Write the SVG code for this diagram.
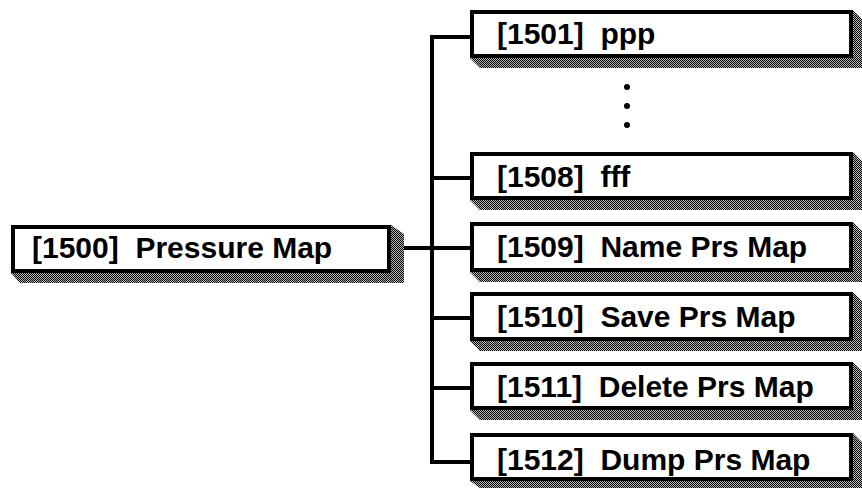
<svg xmlns="http://www.w3.org/2000/svg" width="862" height="488" viewBox="0 0 862 488">
  <defs>
    <!-- fine checkered halftone used for the box shadows -->
    <pattern id="dither" width="2" height="2" patternUnits="userSpaceOnUse">
      <rect width="2" height="2" fill="#b4b4b4"/>
      <rect x="0" y="0" width="1" height="1" fill="#000000"/>
      <rect x="1" y="1" width="1" height="1" fill="#000000"/>
    </pattern>
  </defs>
  <style>
    .box { fill: #ffffff; stroke: #000000; stroke-width: 4; }
    .shadow { fill: url(#dither); stroke: none; }
    .label { font-family: "Liberation Sans", Arial, Helvetica, sans-serif; font-weight: bold; font-size: 30px; fill: #000000; }
    .wire { fill: none; stroke: #000000; stroke-width: 4; stroke-linecap: square; }
    .dot { fill: #000000; }
  </style>
  <rect width="862" height="488" fill="#ffffff"/>

  <!-- connectors -->
  <g id="connectors">
    <line class="wire" x1="405" y1="248" x2="432" y2="248"/>
    <line class="wire" x1="432" y1="37" x2="432" y2="462"/>
    <line class="wire" x1="432" y1="37" x2="470" y2="37"/>
    <line class="wire" x1="432" y1="178" x2="470" y2="178"/>
    <line class="wire" x1="432" y1="248" x2="470" y2="248"/>
    <line class="wire" x1="432" y1="318" x2="470" y2="318"/>
    <line class="wire" x1="432" y1="388" x2="470" y2="388"/>
    <line class="wire" x1="432" y1="462" x2="470" y2="462"/>
    <circle class="dot" cx="627" cy="87" r="3"/>
    <circle class="dot" cx="627" cy="106" r="3"/>
    <circle class="dot" cx="627" cy="125" r="3"/>
  </g>

  <!-- root menu -->
  <g id="n1500">
    <polygon class="shadow" points="391,225 404,234 404,283 20,283 11,273 391,273"/>
    <rect class="box" x="13" y="227" width="376" height="44"/>
    <text class="label" x="32" y="258">[1500]&#160; Pressure Map</text>
  </g>

  <!-- sub-menu items -->
  <g id="n1501">
    <polygon class="shadow" points="853,10 862,19 862,68 480,68 470,58 853,58"/>
    <rect class="box" x="472" y="12" width="379" height="44"/>
    <text class="label" x="497" y="44">[1501]&#160; ppp</text>
  </g>

  <g id="n1508">
    <polygon class="shadow" points="853,152 862,161 862,210 480,210 470,200 853,200"/>
    <rect class="box" x="472" y="154" width="379" height="44"/>
    <text class="label" x="497" y="187">[1508]&#160; fff</text>
  </g>

  <g id="n1509">
    <polygon class="shadow" points="853,222 862,231 862,282 480,282 470,272 853,272"/>
    <rect class="box" x="472" y="224" width="379" height="46"/>
    <text class="label" x="497" y="257">[1509]&#160; Name Prs Map</text>
  </g>

  <g id="n1510">
    <polygon class="shadow" points="853,292 862,301 862,351 480,351 470,341 853,341"/>
    <rect class="box" x="472" y="294" width="379" height="45"/>
    <text class="label" x="497" y="327">[1510]&#160; Save Prs Map</text>
  </g>

  <g id="n1511">
    <polygon class="shadow" points="853,362 862,371 862,420 480,420 470,410 853,410"/>
    <rect class="box" x="472" y="364" width="379" height="44"/>
    <text class="label" x="497" y="397">[1511]&#160; Delete Prs Map</text>
  </g>

  <g id="n1512">
    <polygon class="shadow" points="853,433 862,442 862,488 480,488 470,481 853,481"/>
    <rect class="box" x="472" y="435" width="379" height="44"/>
    <text class="label" x="497" y="470">[1512]&#160; Dump Prs Map</text>
  </g>
</svg>
